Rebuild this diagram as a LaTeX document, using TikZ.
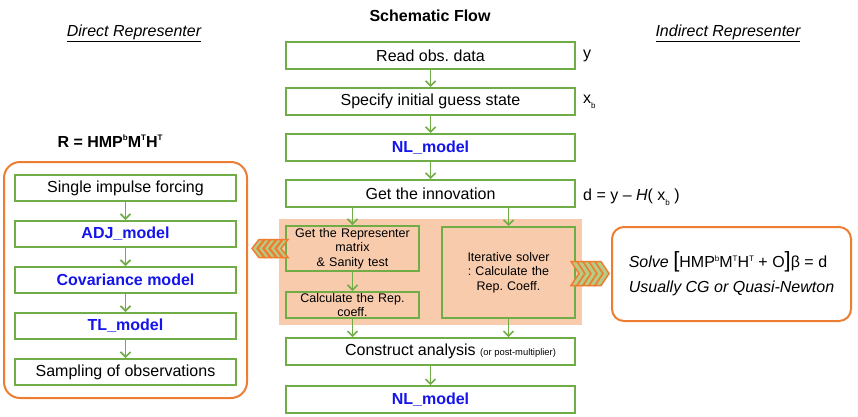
\documentclass[tikz,border=0pt]{standalone}
\usepackage{fontspec}
\setmainfont{Liberation Sans}
\usetikzlibrary{arrows.meta,positioning,fit,backgrounds}

\definecolor{flowgreen}{RGB}{112,173,71}
\definecolor{reporange}{RGB}{237,125,49}
\definecolor{repfill}{RGB}{248,203,173}
\definecolor{chevgreen}{RGB}{182,204,132}
\definecolor{modelblue}{RGB}{20,20,235}

\newcommand{\bigfont}{\fontsize{16}{19}\selectfont}
\newcommand{\subfont}{\fontsize{12.5}{14.5}\selectfont}
\newcommand{\bracketfont}{\fontsize{22}{22}\selectfont}
\newcommand{\upidx}[1]{\raisebox{0.75ex}{\fontsize{8}{8}\selectfont #1}}
\newcommand{\lowidx}[1]{\raisebox{-0.6ex}{\fontsize{8}{8}\selectfont #1}}

\begin{document}
\frenchspacing
\begin{tikzpicture}[x=1pt,y=1pt,node distance=17pt and 6pt,
 box/.style={draw=flowgreen,line width=2pt,minimum width=289pt,minimum height=27pt,inner sep=0pt,font=\bigfont},
 model/.style={box,text=modelblue,font=\bigfont\bfseries},
 sbox/.style={draw=flowgreen,line width=2pt,minimum width=221pt,minimum height=26pt,inner sep=0pt,font=\bigfont},
 smodel/.style={sbox,text=modelblue,font=\bigfont\bfseries},
 subbox/.style={draw=flowgreen,line width=2pt,fill=repfill,text width=131pt,minimum width=133pt,align=center,inner sep=0pt,font=\subfont},
 lab/.style={font=\bigfont,inner sep=1pt},
 flow/.style={->,draw=flowgreen,line width=1.6pt},
 chev/.style={draw=reporange,fill=chevgreen,line width=1.5pt,line join=miter},
 >={Straight Barb[length=5pt,width=10pt]}]
\useasboundingbox (0,0) rectangle (858,-416);

% headings
\node[font=\bigfont\bfseries] (title) at (430,-16) {Schematic Flow};
\node[font=\bigfont\itshape] (directhead) at (134,-33) {\underline{Direct Representer}};
\node[font=\bigfont\itshape] (indirecthead) at (728,-33) {\underline{Indirect Representer}};

% main flow
\node[box] (read) at (430.5,-55.5) {Read obs. data};
\node[box,below=of read] (guess) {Specify initial guess state};
\node[model,below=of guess] (nlfirst) {NL\_model};
\node[box,below=of nlfirst] (innov) {Get the innovation};
\node[lab,right=6pt of read] (ylab) {y};
\node[lab,right=6pt of guess] (xblab) {x\lowidx{b}};
\node[lab,right=6pt of innov,yshift=-4pt] (dlab) {d = y – \textit{H}( x\lowidx{b} )};

\node[subbox,minimum height=45pt,anchor=north west] (repmat) at ([yshift=-17pt]innov.south west) {Get the Representer\\matrix\\\& Sanity test};
\node[subbox,minimum height=26pt,below=19pt of repmat] (coef) {Calculate the Rep.\\coeff.};
\node[subbox,minimum height=91pt,anchor=north east] (iter) at ([yshift=-18pt]innov.south east) {Iterative solver\\: Calculate the\\Rep. Coeff.};
\begin{scope}[on background layer]
\node[fit=(repmat)(coef)(iter),fill=repfill,inner sep=6pt] (solvebg) {};
\end{scope}

\node[box,below=12pt of solvebg] (construct) {\hspace*{40pt}Construct analysis {\fontsize{9.4}{11}\selectfont(or post-multiplier)}};
\node[model,below=19pt of construct] (nlsecond) {NL\_model};

\draw[flow] (read) -- (guess);
\draw[flow] (guess) -- (nlfirst);
\draw[flow] (nlfirst) -- (innov);
\draw[flow] (innov.south -| repmat.north) -- (repmat.north);
\draw[flow] (innov.south -| iter.north) -- (iter.north);
\draw[flow] (repmat) -- (coef);
\draw[flow] (coef.south) -- (coef.south |- construct.north);
\draw[flow] (iter.south) -- (iter.south |- construct.north);
\draw[flow] (construct) -- (nlsecond);

% direct representer
\node[font=\bigfont\bfseries] (rform) at (110,-141) {R = HMP\upidx{b}M\upidx{T}H\upidx{T}};
\node[sbox] (impulse) at (125.5,-188) {Single impulse forcing};
\node[smodel,below=18pt of impulse] (adj) {ADJ\_model};
\node[smodel,below=18pt of adj] (cov) {Covariance model};
\node[smodel,below=18pt of cov] (tl) {TL\_model};
\node[sbox,below=18pt of tl] (sampling) {Sampling of observations};
\node[fit=(impulse)(sampling),draw=reporange,line width=2pt,rounded corners=16pt,inner xsep=10pt,inner ysep=12pt] (directbox) {};
\foreach \a/\b in {impulse/adj,adj/cov,cov/tl,tl/sampling}
 \draw[flow] (\a) -- (\b);

% indirect representer
\node[draw=reporange,line width=2pt,rounded corners=12pt,minimum width=239pt,minimum height=94pt,align=left,font=\bigfont,right=35pt of iter,yshift=-1.5pt] (solvebox)
 {\textit{Solve}\ {\bracketfont[}HMP\upidx{b}M\upidx{T}H\upidx{T} + O{\bracketfont]}β = d\\[6pt]\textit{Usually CG or Quasi-Newton}};

% chevrons
\begin{scope}[shift={(repmat.west)}]
\foreach \i in {0,...,4}
 \draw[chev] ({-33+6*\i},0) -- ++(7,9) -- ++(5,0) -- ++(-7,-9) -- ++(7,-9) -- ++(-5,0) -- cycle;
\end{scope}
\begin{scope}[shift={(iter.east)},yshift=-1pt]
\foreach \i in {0,...,4}
 \draw[chev] ({9+6*\i},0) -- ++(-8,12) -- ++(-6,0) -- ++(8,-12) -- ++(-8,-12) -- ++(6,0) -- cycle;
\end{scope}
\end{tikzpicture}
\end{document}
